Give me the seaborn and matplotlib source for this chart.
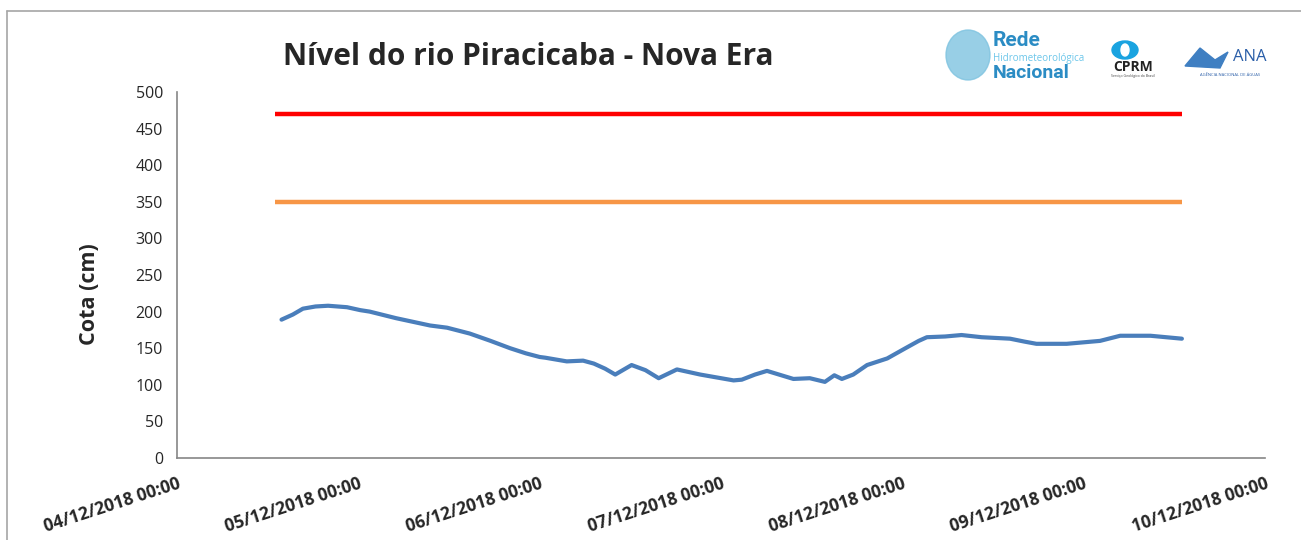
import matplotlib
matplotlib.use("Agg")
import matplotlib.pyplot as plt
import matplotlib.dates as mdates
import seaborn as sns
import pandas as pd
from matplotlib.patches import Ellipse, Polygon
from matplotlib.lines import Line2D

# ---- data ----
times = ["2018-12-04 13:50", "2018-12-04 15:20", "2018-12-04 16:40", "2018-12-04 18:20",
         "2018-12-04 20:00", "2018-12-04 22:30",
         "2018-12-05 00:15", "2018-12-05 01:30", "2018-12-05 05:00", "2018-12-05 09:30",
         "2018-12-05 11:45", "2018-12-05 14:45", "2018-12-05 17:30", "2018-12-05 20:05",
         "2018-12-05 22:10", "2018-12-06 00:00",
         "2018-12-06 00:45", "2018-12-06 03:35", "2018-12-06 05:45", "2018-12-06 07:10",
         "2018-12-06 08:40", "2018-12-06 10:00", "2018-12-06 12:10", "2018-12-06 14:00",
         "2018-12-06 15:45", "2018-12-06 18:10",
         "2018-12-06 21:15", "2018-12-07 01:40", "2018-12-07 02:45", "2018-12-07 04:30",
         "2018-12-07 06:05", "2018-12-07 09:35", "2018-12-07 11:45", "2018-12-07 13:45",
         "2018-12-07 15:00", "2018-12-07 16:00", "2018-12-07 17:30", "2018-12-07 19:20",
         "2018-12-07 22:00", "2018-12-08 00:25", "2018-12-08 02:10", "2018-12-08 03:15",
         "2018-12-08 05:40", "2018-12-08 07:50", "2018-12-08 10:30", "2018-12-08 14:15",
         "2018-12-08 16:10", "2018-12-08 17:45", "2018-12-08 21:45", "2018-12-09 02:10",
         "2018-12-09 04:50", "2018-12-09 08:50", "2018-12-09 13:00"]
cota = [189, 196, 204, 207,
        208, 206,
        202, 200, 191, 181,
        178, 170, 160, 150,
        143, 138,
        137, 132, 133, 129,
        122, 114, 127, 120,
        109, 121,
        114, 106, 107, 114,
        119, 108, 109, 104,
        113, 108, 114, 127,
        136, 150, 160, 165,
        166, 168, 165, 163,
        159, 156, 156, 160,
        167, 167, 163]

cota_alerta = 350
cota_inundacao = 470
limite_inicio = "2018-12-04 13:00"
limite_fim = "2018-12-09 13:00"

xticks = pd.date_range("2018-12-04", "2018-12-10", freq="D")
yticks = list(range(0, 501, 50))

df = pd.DataFrame({"time": pd.to_datetime(times), "cota": cota})
lim = pd.DataFrame({"time": pd.to_datetime([limite_inicio, limite_fim] * 2),
                    "cota": [cota_inundacao, cota_inundacao, cota_alerta, cota_alerta],
                    "nivel": ["inund", "inund", "alerta", "alerta"]})

sns.set_style("white")
plt.rcParams['font.family'] = ['Open Sans', 'DejaVu Sans']

fig = plt.figure(figsize=(13.01, 5.40), dpi=100)
ax = fig.add_axes([177/1301, 1 - 458/540, (1265 - 177)/1301, (458 - 92)/540])

sns.lineplot(data=lim[lim.nivel == "inund"], x="time", y="cota", color="#FF0000",
             lw=3.2, ax=ax, solid_capstyle="butt")
sns.lineplot(data=lim[lim.nivel == "alerta"], x="time", y="cota", color="#F79646",
             lw=3.2, ax=ax, solid_capstyle="butt")
sns.lineplot(data=df, x="time", y="cota", color="#4A7EBB", lw=3.0, ax=ax,
             solid_joinstyle="round")

ax.set_xlim(xticks[0], xticks[-1])
ax.set_ylim(0, 500)
ax.set_yticks(yticks)
ax.set_xticks(xticks)
ax.xaxis.set_major_formatter(mdates.DateFormatter("%d/%m/%Y %H:%M"))
for s in ["top", "right"]:
    ax.spines[s].set_visible(False)
for s in ["left", "bottom"]:
    ax.spines[s].set_color("#868686")
    ax.spines[s].set_linewidth(1.2)
ax.tick_params(axis="both", direction="out", length=6, width=1.2, color="#868686")
ax.tick_params(axis="y", labelsize=11.5, pad=4)
ax.tick_params(axis="x", labelsize=12.5, pad=6)
for lab in ax.get_xticklabels():
    lab.set_rotation(18)
    lab.set_ha("right")
    lab.set_rotation_mode("anchor")
    lab.set_fontweight("bold")
ax.set_xlabel("")
ax.set_ylabel("Cota (cm)", fontsize=15.5, fontweight="bold")
ax.yaxis.set_label_coords(-0.071, 0.448)

fig.text(283/1301, 1 - 57/540, "Nível do rio Piracicaba - Nova Era", fontsize=21.5,
         fontweight="bold", ha="left", va="center")

# figure border (left & top)
fig.add_artist(Line2D([7/1301, 7/1301], [0, 1 - 11/540], transform=fig.transFigure,
                      color="#a6a6a6", lw=1.2))
fig.add_artist(Line2D([7/1301, 1], [1 - 11/540, 1 - 11/540], transform=fig.transFigure,
                      color="#a6a6a6", lw=1.2))

# logos (approximations)
fig.add_artist(Ellipse((968/1301, 1 - 55/540), 44/1301, 50/540, transform=fig.transFigure,
                       color="#7ec3e0", alpha=0.8))
fig.text(993/1301, 1 - 41/540, "Rede", fontsize=15, color="#2b8cc4", fontweight="bold",
         family=["Roboto", "DejaVu Sans"], va="center", ha="left")
fig.text(993/1301, 1 - 59/540, "Hidrometeorológica", fontsize=7, color="#6cc6ea",
         va="center", ha="left")
fig.text(993/1301, 1 - 73/540, "Nacional", fontsize=14, color="#2b8cc4", fontweight="bold",
         family=["Roboto", "DejaVu Sans"], va="center", ha="left")
fig.add_artist(Ellipse((1125/1301, 1 - 50/540), 26/1301, 18/540, transform=fig.transFigure,
                       color="#1aa3e0"))
fig.add_artist(Ellipse((1125/1301, 1 - 50/540), 8/1301, 12/540, transform=fig.transFigure,
                       color="white"))
fig.text(1133/1301, 1 - 67/540, "CPRM", fontsize=10, fontweight="bold", color="#222222",
         va="center", ha="center")
fig.text(1133/1301, 1 - 76/540, "Serviço Geológico do Brasil", fontsize=2.5,
         color="#444444", va="center", ha="center")
fig.add_artist(Polygon([[1185/1301, 1 - 66/540], [1200/1301, 1 - 48/540],
                        [1215/1301, 1 - 60/540], [1228/1301, 1 - 52/540],
                        [1220/1301, 1 - 68/540]], closed=True, transform=fig.transFigure,
                       color="#3f7fc2"))
fig.text(1250/1301, 1 - 57/540, "ANA", fontsize=12, color="#2a5ea8", va="center",
         ha="center")
fig.text(1230/1301, 1 - 75/540, "AGÊNCIA NACIONAL DE ÁGUAS", fontsize=3,
         color="#2a5ea8", va="center", ha="center")

fig.savefig("out.png", dpi=100)
